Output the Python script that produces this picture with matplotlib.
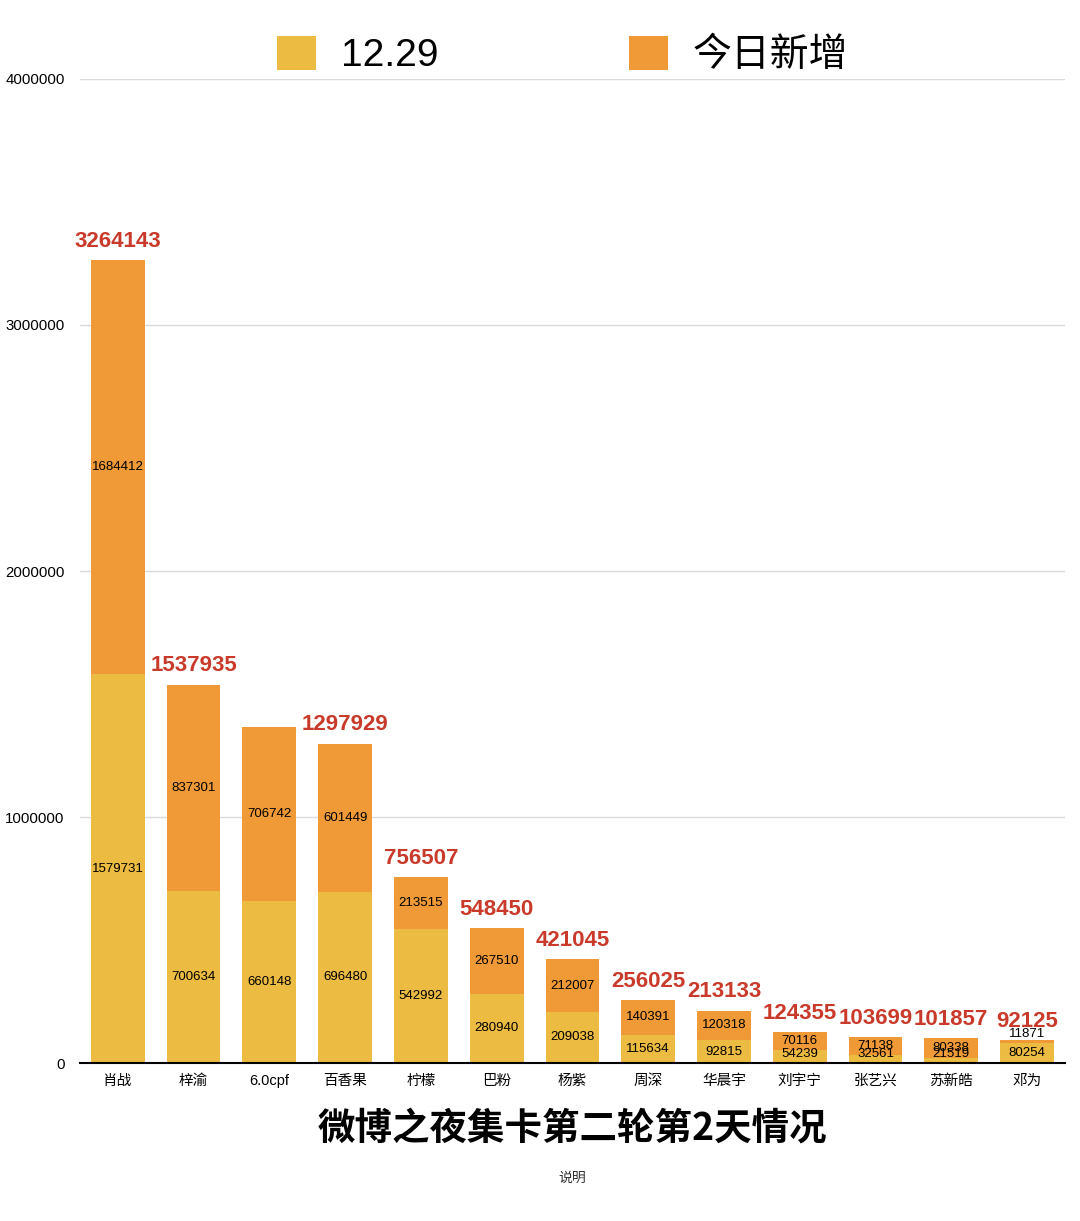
import matplotlib.pyplot as plt
import numpy as np

plt.rcParams['font.family'] = ['Liberation Sans', 'Noto Sans CJK SC', 'DejaVu Sans']

# 数据
names = ['肖战', '梓渝', '6.0cpf', '百香果', '柠檬', '巴粉', '杨紫',
         '周深', '华晨宇', '刘宇宁', '张艺兴', '苏新皓', '邓为']
prev = [1579731, 700634, 660148, 696480, 542992, 280940, 209038,
        115634, 92815, 54239, 32561, 21519, 80254]
today = [1684412, 837301, 706742, 601449, 213515, 267510, 212007,
         140391, 120318, 70116, 71138, 80338, 11871]
show_total = [True, True, False, True, True, True, True,
              True, True, True, True, True, True]
yticks = [0, 1000000, 2000000, 3000000, 4000000]

yellow = '#ecbb41'
orange = '#f09a37'
red = '#c93a2b'

fig = plt.figure(figsize=(10.8, 12.21), dpi=100)
ax = fig.add_axes([0.074, 0.1294, 0.912, 0.8059])

x = np.arange(len(names))
prev = np.array(prev)
today = np.array(today)
total = prev + today

b1 = ax.bar(x, prev, width=0.71, color=yellow, label='12.29', zorder=2)
b2 = ax.bar(x, today, bottom=prev, width=0.71, color=orange, label='今日新增', zorder=2)

ax.set_xlim(-0.5, len(names) - 0.5)
ax.set_ylim(0, 4000000)
ax.set_yticks(yticks)
ax.set_yticklabels([str(v) for v in yticks], fontsize=10.8)
ax.set_xticks(x)
ax.set_xticklabels(names, fontsize=10.5)
ax.tick_params(axis='both', length=0)
ax.tick_params(axis='y', pad=11)
ax.tick_params(axis='x', pad=8)
ax.grid(axis='y', color='#dadada', linewidth=1, zorder=0)
for s in ['top', 'right', 'left']:
    ax.spines[s].set_visible(False)
ax.spines['bottom'].set_linewidth(1.5)
ax.spines['bottom'].set_zorder(3)

# 柱内数字
for i in range(len(names)):
    y1 = max(prev[i] / 2, 36000)
    ax.text(x[i], y1, str(prev[i]), ha='center', va='center', fontsize=9.5, zorder=4)
    if today[i] < 20000:
        ax.text(x[i], total[i], str(today[i]), ha='center', va='bottom', fontsize=9.5, zorder=4)
    else:
        y2 = prev[i] + today[i] / 2
        ax.text(x[i], y2, str(today[i]), ha='center', va='center', fontsize=9.5, zorder=4)
    if show_total[i]:
        ax.annotate(str(total[i]), (x[i], total[i]), xytext=(0, 6), textcoords='offset points',
                    ha='center', va='bottom', fontsize=16, fontweight='bold', color=red, zorder=5)

fig.legend(handles=[b1, b2], loc='center', bbox_to_anchor=(0.521, 0.955), ncol=2,
           frameon=False, fontsize=28, handlelength=1.0, handleheight=1.0,
           handletextpad=0.65, columnspacing=4.9)

fig.text(0.53, 0.0762, '微博之夜集卡第二轮第2天情况', ha='center', va='center',
         fontsize=27, fontweight='bold', family=['Noto Sans CJK SC', 'DejaVu Sans'])
fig.text(0.53, 0.0352, '说明', ha='center', va='center', fontsize=10, color='#333333',
         family=['Noto Sans CJK SC', 'DejaVu Sans'])

fig.savefig('out.png', dpi=100)
